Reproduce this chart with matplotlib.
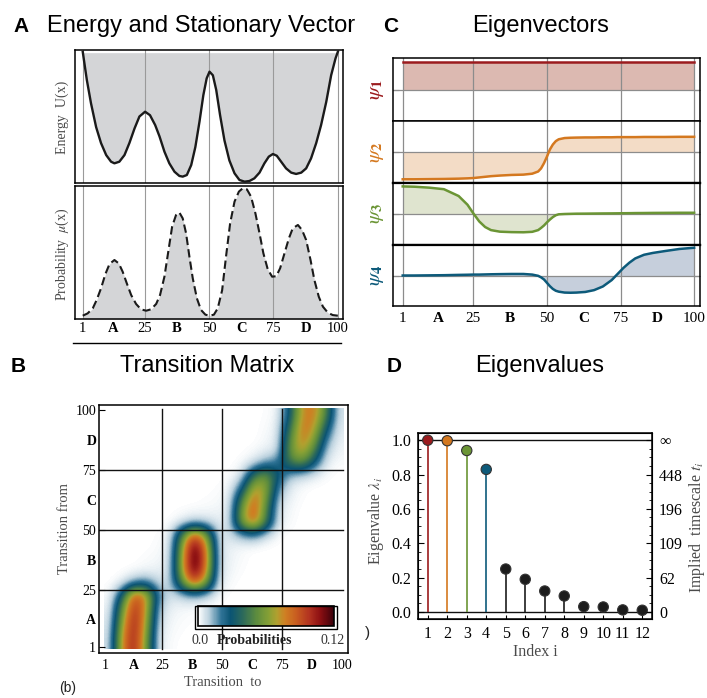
import numpy as np
import matplotlib
matplotlib.use("Agg")
import matplotlib.pyplot as plt
from matplotlib.colors import LinearSegmentedColormap
from matplotlib.lines import Line2D
from matplotlib.patches import Rectangle

W, H = 707, 698

plt.rcParams["font.family"] = "Liberation Serif"
plt.rcParams["mathtext.fontset"] = "stix"

# ---- shared axis labels for the 1..100 state axis
num_ticks = [1, 25, 50, 75, 100]
letter_pos = [13, 37.5, 62.5, 87.5]
letters = ["A", "B", "C", "D"]

# ---- A: energy landscape and stationary vector
x_energy = [1, 2.6, 4.2, 6.2, 8.1, 10.1, 12, 13.3, 15.2, 17.2, 19.1, 21.1, 23, 25.2,
            27.1, 29.1, 30.8, 32.7, 34.6, 36.6, 38.5, 39.8, 41.4, 43.1, 44.7, 46.3,
            47.8, 49.1, 50.2, 51.5, 52.8, 54.3, 56, 57.9, 59.9, 61.8, 63.8, 65.7,
            67.6, 69.6, 71.5, 73.2, 74.8, 76.3, 78, 79.9, 81.9, 83.8, 85.8, 87.7,
            89.6, 91.6, 93.5, 95.5, 97.4, 99.1, 100]
energy = [0.987, 0.774, 0.60, 0.42, 0.30, 0.21, 0.16, 0.148, 0.16, 0.21, 0.30, 0.41,
          0.50, 0.536, 0.51, 0.436, 0.35, 0.236, 0.148, 0.085, 0.053, 0.048, 0.06,
          0.135, 0.27, 0.46, 0.66, 0.787, 0.837, 0.81, 0.70, 0.51, 0.32, 0.17, 0.073,
          0.023, 0.01, 0.015, 0.035, 0.078, 0.148, 0.198, 0.218, 0.205, 0.16, 0.11,
          0.078, 0.068, 0.078, 0.11, 0.185, 0.30, 0.436, 0.61, 0.81, 0.937, 0.987]

x_prob = [1, 2.9, 4.9, 6.4, 8.1, 9.8, 11.4, 13.3, 15, 16.5, 18.1, 19.8, 21.7, 23.6,
          25.6, 27.5, 29.5, 31, 32.7, 34.3, 35.7, 37.2, 38.5, 39.8, 41.1, 42.4, 43.7,
          45.3, 46.9, 48.6, 50.2, 51.9, 53.4, 55.1, 56.6, 58.2, 59.9, 61.6, 63.1,
          64.7, 66.3, 68, 69.6, 71.1, 72.8, 74.5, 76.1, 77.6, 79.3, 81, 82.5, 84.5,
          86.1, 87.7, 89.4, 90.9, 92.6, 94.2, 96.1, 98, 100]
prob = [0.0, 0.018, 0.058, 0.123, 0.215, 0.327, 0.406, 0.437, 0.41, 0.345, 0.254,
        0.162, 0.092, 0.05, 0.039, 0.05, 0.092, 0.162, 0.306, 0.516, 0.70, 0.79, 0.81,
        0.764, 0.647, 0.463, 0.293, 0.136, 0.045, 0.008, 0.0, 0.008, 0.058, 0.20,
        0.463, 0.725, 0.895, 0.974, 1.0, 0.992, 0.935, 0.804, 0.647, 0.49, 0.364,
        0.306, 0.31, 0.372, 0.49, 0.607, 0.686, 0.712, 0.673, 0.594, 0.437, 0.28,
        0.149, 0.071, 0.024, 0.005, 0.0]

# ---- C: eigenvectors
x_psi = [1, 5, 10, 15, 20, 23, 25, 27, 29, 31, 34, 38, 42, 45, 47, 48, 49, 50, 51,
         52, 53, 54, 56, 58, 60, 63, 66, 69, 72, 74, 76, 78, 80, 83, 86, 90, 95, 100]
psi1 = [0.87] * len(x_psi)
psi2 = [-0.88, -0.88, -0.875, -0.87, -0.86, -0.85, -0.84, -0.82, -0.80, -0.78, -0.76,
        -0.74, -0.73, -0.70, -0.63, -0.53, -0.36, -0.15, 0.08, 0.24, 0.35, 0.41, 0.45,
        0.46, 0.465, 0.47, 0.47, 0.475, 0.475, 0.48, 0.48, 0.48, 0.48, 0.485, 0.485,
        0.485, 0.49, 0.49]
psi3 = [0.89, 0.88, 0.85, 0.80, 0.58, 0.30, 0.02, -0.24, -0.42, -0.52, -0.57, -0.585,
        -0.59, -0.575, -0.52, -0.45, -0.37, -0.27, -0.18, -0.10, -0.04, -0.01, 0.0,
        0.005, 0.01, 0.012, 0.015, 0.018, 0.02, 0.022, 0.025, 0.027, 0.03, 0.032,
        0.035, 0.037, 0.04, 0.04]
psi4 = [0.0, 0.0, 0.005, 0.01, 0.02, 0.025, 0.03, 0.03, 0.035, 0.04, 0.045, 0.05,
        0.05, 0.03, -0.01, -0.06, -0.13, -0.24, -0.35, -0.44, -0.50, -0.53, -0.56,
        -0.565, -0.56, -0.54, -0.48, -0.36, -0.15, 0.05, 0.25, 0.42, 0.56, 0.68, 0.74,
        0.80, 0.87, 0.91]
psi_colors = ["#9b1b1e", "#d4781f", "#6b9535", "#0d5a7a"]
psi_fills = ["#dcb9b1", "#f3dcc6", "#dfe4cf", "#c6cfdc"]

# ---- D: eigenvalues
eig_index = list(range(1, 13))
eigenvalues = [1.0, 0.997, 0.94, 0.83, 0.25, 0.19, 0.122, 0.093, 0.031, 0.029, 0.012, 0.01]
timescale_pos = [1.0, 0.8, 0.6, 0.4, 0.2, 0.0]
timescale_labels = ["\u221e", "448", "196", "109", "62", "0"]
eig_colors = psi_colors + ["#1c1c1c"] * 8

# ---- B: transition matrix in 5-state bins (rows = from, cols = to), units of 0.01
# bin centres: 3, 8, 13, ..., 98
trans = [
    [0.5, 7.5, 10.5, 6, 0.4, 0.1, 0, 0, 0, 0, 0, 0, 0, 0, 0, 0, 0, 0, 0, 0],
    [0.4, 7, 10.5, 6.5, 0.5, 0.15, 0.05, 0, 0, 0, 0, 0, 0, 0, 0, 0, 0, 0, 0, 0],
    [0.3, 6, 10.5, 7, 0.8, 0.2, 0.1, 0.05, 0, 0, 0, 0, 0, 0, 0, 0, 0, 0, 0, 0],
    [0.15, 5, 10, 7.5, 1.2, 0.3, 0.2, 0.1, 0.05, 0, 0, 0, 0, 0, 0, 0, 0, 0, 0, 0],
    [0.05, 3, 9, 7.5, 2, 0.5, 1, 1.5, 1, 0.2, 0, 0, 0, 0, 0, 0, 0, 0, 0, 0],
    [0, 0.3, 1.5, 2, 0.8, 0.6, 5, 9, 6, 0.5, 0.1, 0, 0, 0, 0, 0, 0, 0, 0, 0],
    [0, 0, 0.1, 0.2, 0.3, 0.5, 6.5, 12, 8, 0.7, 0.2, 0.05, 0, 0, 0, 0, 0, 0, 0, 0],
    [0, 0, 0, 0.1, 0.15, 0.4, 6.5, 12.5, 8.5, 0.7, 0.25, 0.1, 0, 0, 0, 0, 0, 0, 0, 0],
    [0, 0, 0, 0, 0.1, 0.3, 6, 12, 8, 0.6, 0.3, 0.15, 0.05, 0, 0, 0, 0, 0, 0, 0],
    [0, 0, 0, 0, 0.05, 0.2, 4.5, 9, 6, 0.5, 0.6, 1.5, 2, 0.8, 0.1, 0, 0, 0, 0, 0],
    [0, 0, 0, 0, 0, 0.05, 0.4, 1, 0.8, 0.4, 0.5, 6, 8.5, 4.5, 0.4, 0.1, 0, 0, 0, 0],
    [0, 0, 0, 0, 0, 0, 0.05, 0.1, 0.15, 0.2, 0.4, 6, 9, 5, 0.5, 0.15, 0, 0, 0, 0],
    [0, 0, 0, 0, 0, 0, 0, 0, 0.05, 0.1, 0.3, 4.5, 8.5, 6, 0.9, 0.25, 0.05, 0, 0, 0],
    [0, 0, 0, 0, 0, 0, 0, 0, 0, 0.05, 0.15, 2, 7, 6.5, 2, 0.4, 0.1, 0, 0, 0],
    [0, 0, 0, 0, 0, 0, 0, 0, 0, 0, 0.05, 0.4, 4, 5.5, 3, 1.3, 1, 0.5, 0.1, 0],
    [0, 0, 0, 0, 0, 0, 0, 0, 0, 0, 0, 0.1, 0.5, 1.5, 2, 4.5, 5.5, 3, 0.4, 0.1],
    [0, 0, 0, 0, 0, 0, 0, 0, 0, 0, 0, 0, 0.1, 0.3, 0.6, 5.5, 7.5, 5, 1, 0.2],
    [0, 0, 0, 0, 0, 0, 0, 0, 0, 0, 0, 0, 0, 0.15, 0.4, 5, 8, 6.5, 2, 0.3],
    [0, 0, 0, 0, 0, 0, 0, 0, 0, 0, 0, 0, 0, 0.1, 0.3, 4, 8, 7.5, 3.5, 0.4],
    [0, 0, 0, 0, 0, 0, 0, 0, 0, 0, 0, 0, 0, 0.05, 0.2, 3, 7.5, 8, 5, 0.5],
]

prob_cmap = LinearSegmentedColormap.from_list("probs", [
    (0.00, "#ffffff"), (0.08, "#b9d0dd"), (0.17, "#2f7396"), (0.24, "#0b5473"),
    (0.33, "#2d6a5a"), (0.43, "#5d8c3e"), (0.52, "#86a035"), (0.58, "#b1a02f"),
    (0.64, "#cf7f23"), (0.72, "#c95e20"), (0.82, "#b23220"), (0.90, "#8c0f12"),
    (1.00, "#3a000a")])

fig = plt.figure(figsize=(W / 100, H / 100), dpi=100)


def px_axes(left, top, right, bottom):
    return fig.add_axes([left / W, 1 - bottom / H, (right - left) / W, (bottom - top) / H])


def fig_text(x, y, s, **kw):
    fig.text(x / W, 1 - y / H, s, **kw)


def state_ticks(axis, size, pad, length=0):
    axis.set_ticks(num_ticks)
    axis.set_ticklabels([str(t) for t in num_ticks], fontsize=size)
    axis.set_ticks(letter_pos, minor=True)
    axis.set_ticklabels(letters, minor=True, fontsize=size, fontweight="bold")
    axis.set_tick_params(which="major", pad=pad, length=length, direction="in")
    axis.set_tick_params(which="minor", pad=pad, length=0)


title_kw = dict(family="Liberation Sans", fontsize=17, ha="center", va="baseline")
letter_kw = dict(family="Liberation Sans", fontsize=15, fontweight="bold", ha="center", va="baseline")
label_color = "#4a4a4a"

# ================= A
fig_text(21, 32, "A", **letter_kw)
fig_text(201, 32, "Energy and Stationary Vector", **title_kw)

ax_e = px_axes(75, 50, 343, 183)
ax_e.fill_between(x_energy, energy, 0.98, color="#d4d5d7", lw=0, zorder=1)
ax_e.plot(x_energy, energy, color="#1a1a1a", lw=1.7, zorder=3)
ax_e.set_xlim(-2, 102)
ax_e.set_ylim(0, 1)

ax_p = px_axes(75, 186, 343, 319)
ax_p.fill_between(x_prob, -0.026, prob, color="#d4d5d7", lw=0, zorder=1)
ax_p.plot(x_prob, prob, color="#1a1a1a", lw=1.5, ls=(0, (4, 2)), zorder=3)
ax_p.set_xlim(-2, 102)
ax_p.set_ylim(-0.026, 1.018)

for ax in (ax_e, ax_p):
    for g in num_ticks:
        ax.axvline(g, color="#9a9a9a", lw=0.8, zorder=2)
    ax.set_yticks([])
    for s in ax.spines.values():
        s.set_linewidth(1.1)
ax_e.set_xticks([])
state_ticks(ax_p.xaxis, 10.5, 2)

fig_text(62, 117, "Energy  U(x)", rotation=90, ha="center", va="center",
         fontsize=10, color=label_color)
fig_text(62, 254, r"Probability  $\mu$(x)", rotation=90, ha="center", va="center",
         fontsize=10, color=label_color)
fig.add_artist(Line2D([73 / W, 341 / W], [1 - 343 / H, 1 - 343 / H], color="k", lw=1))

# ================= C
fig_text(391, 32, "C", **letter_kw)
fig_text(541, 32, "Eigenvectors", **title_kw)

edges = [58, 121, 183, 245, 306]
psi_series = [psi1, psi2, psi3, psi4]
for k in range(4):
    ax = px_axes(393, edges[k], 700, edges[k + 1])
    ax.fill_between(x_psi, 0, psi_series[k], color=psi_fills[k], lw=0, zorder=1)
    ax.plot(x_psi, psi_series[k], color=psi_colors[k], lw=1.8, zorder=3)
    for g in num_ticks:
        ax.axvline(g, color="#8c8c8c", lw=0.9, zorder=2)
    ax.axhline(0, color="#8c8c8c", lw=0.9, zorder=2)
    ax.set_xlim(-2.3, 102)
    ax.set_ylim(-1, 1)
    ax.set_yticks([0])
    ax.set_yticklabels([])
    ax.tick_params(axis="y", direction="in", length=4, left=True, right=True, color="#555")
    for s in ax.spines.values():
        s.set_linewidth(1.1)
    if k >= 1:
        ax.spines["top"].set_linewidth(1.6 if k >= 2 else 1.1)
    if k in (1, 2):
        ax.spines["bottom"].set_linewidth(1.6)
    ax.set_ylabel(r"$\psi_\mathbf{%d}$" % (k + 1), color=psi_colors[k], fontsize=15)
    ax.yaxis.set_label_coords(-0.022, 0.5)
    if k < 3:
        ax.set_xticks([])
    else:
        state_ticks(ax.xaxis, 11, 4)

# ================= B
fig_text(18, 372, "B", **letter_kw)
fig_text(207, 372, "Transition Matrix", **title_kw)

ax_b = px_axes(99, 405, 348, 653)
img = ax_b.imshow(np.array(trans) / 100.0, origin="lower", cmap=prob_cmap, vmin=0, vmax=0.12,
                  extent=(0.5, 100.5, 0.5, 100.5), interpolation="bicubic", aspect="auto",
                  zorder=1)
for g in [25, 50, 75]:
    ax_b.plot([g, g], [0.5, 100.5], color="#111", lw=1, zorder=2)
    ax_b.plot([-1.5, 100.5], [g, g], color="#111", lw=1, zorder=2)
ax_b.set_xlim(-1.5, 102.5)
ax_b.set_ylim(-1.3, 102)
state_ticks(ax_b.xaxis, 10, 4)
state_ticks(ax_b.yaxis, 10, 2, length=4)
for s in ax_b.spines.values():
    s.set_linewidth(1.1)

fig_text(65, 528, "Transition from", rotation=90, ha="center", va="center",
         fontsize=10.5, color=label_color)
fig_text(223, 683, "Transition  to", ha="center", va="center", fontsize=10.5, color=label_color)
fig_text(68, 688, "(b)", ha="center", va="center", fontsize=10, family="Liberation Sans",
         color="#222")

cax = px_axes(198, 606, 334, 626)
cb = fig.colorbar(img, cax=cax, orientation="horizontal")
cb.set_ticks([])
cb.outline.set_linewidth(1.2)
fig.add_artist(Rectangle((195 / W, 1 - 629 / H), 142 / W, 23 / H, transform=fig.transFigure,
                         fill=False, ec="k", lw=1))
fig_text(200, 640, "0.0", ha="center", va="center", fontsize=10, color="#333")
fig_text(255, 640, "Probabilities", ha="center", va="center", fontsize=10,
         fontweight="bold", color="#222")
fig_text(333, 640, "0.12", ha="center", va="center", fontsize=10, color="#333")

# ================= D
fig_text(394, 372, "D", **letter_kw)
fig_text(540, 372, "Eigenvalues", **title_kw)

ax_d = px_axes(418, 433, 652, 619)
ax_d.axhline(1.0, color="#111", lw=1, zorder=1)
ax_d.axhline(0.0, color="#111", lw=1, zorder=1)
ax_d.vlines(eig_index, 0, eigenvalues, colors=eig_colors, lw=1.2, zorder=2)
ax_d.scatter(eig_index, eigenvalues, s=55, c=eig_colors, edgecolors="#333", linewidths=0.8,
             zorder=3)
ax_d.set_xlim(0.5, 12.5)
ax_d.set_ylim(-0.041, 1.042)
ax_d.set_xticks(eig_index)
ax_d.set_yticks([0.0, 0.2, 0.4, 0.6, 0.8, 1.0])
ax_d.set_yticklabels(["0.0", "0.2", "0.4", "0.6", "0.8", "1.0"])
ax_d.set_yticks(np.arange(0, 1.01, 0.05), minor=True)
ax_d.tick_params(axis="both", which="major", labelsize=11.5, direction="in", length=4, pad=5)
ax_d.tick_params(axis="y", which="minor", direction="in", length=2)
ax_d.tick_params(axis="x", which="major", length=3)
for s in ax_d.spines.values():
    s.set_linewidth(1.1)

ax_d2 = ax_d.twinx()
ax_d2.set_ylim(-0.041, 1.042)
ax_d2.set_yticks(timescale_pos)
ax_d2.set_yticklabels(timescale_labels)
ax_d2.set_yticks(np.arange(0, 1.01, 0.05), minor=True)
ax_d2.tick_params(axis="y", which="major", labelsize=11.5, direction="in", length=4, pad=5)
ax_d2.tick_params(axis="y", which="minor", direction="in", length=2)

fig_text(376, 521, r"Eigenvalue $\lambda_i$", rotation=90, ha="center", va="center",
         fontsize=11.5, color=label_color)
fig_text(697, 527, r"Implied  timescale $t_i$", rotation=90, ha="center", va="center",
         fontsize=11.5, color=label_color)
fig_text(535, 652, "Index i", ha="center", va="center", fontsize=11.5, color=label_color)
fig_text(367, 633, ")", ha="center", va="center", fontsize=11, family="Liberation Sans",
         color="#222")

fig.savefig("out.png", dpi=100)
